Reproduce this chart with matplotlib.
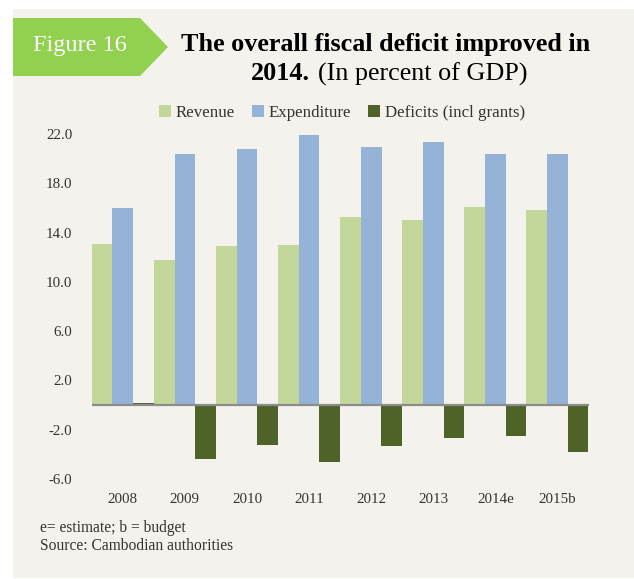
import matplotlib
matplotlib.use("Agg")
import matplotlib.pyplot as plt
from matplotlib.patches import Rectangle, Polygon, Patch
import numpy as np

years = ["2008", "2009", "2010", "2011", "2012", "2013", "2014e", "2015b"]
revenue = [13.1, 11.8, 12.9, 13.0, 15.25, 15.05, 16.05, 15.8]
expenditure = [16.0, 20.4, 20.8, 21.9, 20.95, 21.35, 20.4, 20.4]
deficits = [0.2, -4.4, -3.27, -4.62, -3.33, -2.7, -2.54, -3.78]
yticks = [-6.0, -2.0, 2.0, 6.0, 10.0, 14.0, 18.0, 22.0]

C_REV = "#C4D79B"
C_EXP = "#95B3D7"
C_DEF = "#4F6228"
BG = "#F3F2EC"
GREEN = "#92D050"
SERIF = ["Liberation Serif", "DejaVu Serif"]

W, H = 634, 579
fig = plt.figure(figsize=(W / 100, H / 100), dpi=100)
fig.patch.set_facecolor("white")

def fx(x):
    return x / W

def fy(y):
    return 1 - y / H

# beige panel
fig.patches.append(Rectangle((fx(13), fy(578)), fx(634 - 13), (578 - 9) / H,
                             transform=fig.transFigure, facecolor=BG,
                             edgecolor="none", zorder=-10))
# green arrow label
pts = [(13, 18), (140, 18), (168, 47), (140, 76), (13, 76)]
fig.patches.append(Polygon([(fx(x), fy(y)) for x, y in pts], closed=True,
                           transform=fig.transFigure, facecolor=GREEN,
                           edgecolor="none", zorder=-5))
fig.text(fx(80), fy(45), "Figure 16", color="white", fontsize=17.5,
         family=SERIF, ha="center", va="center", zorder=2)

# title
fig.text(fx(386), fy(44), "The overall fiscal deficit improved in",
         fontsize=18.8, fontweight="bold", family=SERIF, ha="center", va="center")
fig.text(fx(310), fy(74), "2014.", fontsize=18.8, fontweight="bold",
         family=SERIF, ha="right", va="center")
fig.text(fx(318), fy(74), "(In percent of GDP)", fontsize=18.8,
         family=SERIF, ha="left", va="center")

# axes
ax = fig.add_axes([fx(91.7), fy(479), fx(588.5 - 91.7), (479 - 134) / H])
ax.set_facecolor("none")
x = np.arange(len(years))
bw = 1 / 3
ax.bar(x - bw, revenue, width=bw, color=C_REV, zorder=2)
ax.bar(x, expenditure, width=bw, color=C_EXP, zorder=2)
ax.bar(x + bw, deficits, width=bw, color=C_DEF, zorder=2)
ax.axhline(0, color="#8C8C8C", lw=1.6, zorder=3)
ax.set_xlim(-0.5, len(years) - 0.5)
ax.set_ylim(-6, 22)
ax.set_yticks(yticks)
ax.set_yticklabels([f"{v:.1f}" for v in yticks], family=SERIF, fontsize=10.8,
                   color="#333333")
ax.set_xticks(x)
ax.set_xticklabels(years, family=SERIF, fontsize=10.8, color="#333333")
ax.tick_params(axis="both", length=0)
ax.tick_params(axis="y", pad=14)
ax.tick_params(axis="x", pad=10)
for s in ax.spines.values():
    s.set_visible(False)

handles = [Patch(facecolor=C_REV, label="Revenue"),
           Patch(facecolor=C_EXP, label="Expenditure"),
           Patch(facecolor=C_DEF, label="Deficits (incl grants)")]
fig.legend(handles=handles, loc="center", bbox_to_anchor=(fx(342), fy(113)),
           ncol=3, frameon=False, prop={"family": SERIF, "size": 12.2},
           handlelength=0.7, handleheight=0.7, handletextpad=0.3,
           columnspacing=1.0, labelcolor="#333333")

fig.text(fx(40), fy(528), "e= estimate; b = budget", family=SERIF,
         fontsize=11.2, color="#333333", ha="left", va="center")
fig.text(fx(40), fy(546), "Source: Cambodian authorities", family=SERIF,
         fontsize=11.2, color="#333333", ha="left", va="center")

fig.savefig("out.png", dpi=100, facecolor="white")
